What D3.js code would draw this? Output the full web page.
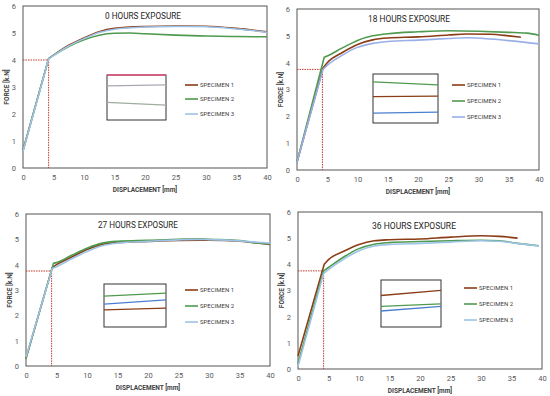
<!DOCTYPE html>
<html>
<head>
	<script src="https://cdn.jsdelivr.net/npm/d3@7"></script>
	<style>
		html, body {
			padding: 0;
			margin: 0;
			background: #fff;
		}
	</style>
</head>
<body>
	<script>
		var W = 550, H = 396;

		// ---- data ----
		var titles = ["0 HOURS EXPOSURE", "18 HOURS EXPOSURE", "27 HOURS EXPOSURE", "36 HOURS EXPOSURE"];
		var specimens = ["SPECIMEN 1", "SPECIMEN 2", "SPECIMEN 3"];
		var xTicks = [0, 5, 10, 15, 20, 25, 30, 35, 40];
		var yTicks = [0, 1, 2, 3, 4, 5, 6];
		var yieldForce = [4, 3.75, 3.75, 3.75];
		var yieldDisp = [4.2, 4.2, 4.2, 4.2];

		// 0 hours
		var d0s1 = [[0,0.65],[4.2,4.05],[5,4.18],[7.5,4.55],[10,4.82],[12.5,5.05],[15,5.17],[20,5.24],[25,5.26],[30,5.25],[35,5.17],[40,5.04]];
		var d0s2 = [[0,0.65],[4.2,4.05],[5,4.17],[7.5,4.5],[10,4.75],[12.5,4.92],[15,4.99],[17.5,5.0],[20,4.97],[25,4.92],[30,4.89],[35,4.87],[40,4.86]];
		var d0s3 = [[0,0.62],[4.2,4.04],[5,4.16],[7.5,4.52],[10,4.79],[12.5,5.02],[15,5.14],[20,5.22],[25,5.24],[30,5.23],[35,5.15],[40,5.03]];
		// 18 hours
		var d18s1 = [[0,0.3],[4.3,3.8],[5,4.0],[7.5,4.38],[10,4.68],[12.5,4.85],[15,4.92],[20,4.96],[25,5.03],[28,5.07],[32,5.06],[35,5.0],[37,4.95]];
		var d18s2 = [[0,0.3],[4.5,4.2],[5,4.25],[7.5,4.55],[10,4.83],[12.5,5.0],[15,5.08],[20,5.15],[25,5.19],[30,5.17],[35,5.13],[38,5.1],[40,5.02]];
		var d18s3 = [[0,0.3],[4.3,3.75],[5,3.9],[7.5,4.28],[10,4.57],[12.5,4.72],[15,4.79],[20,4.84],[25,4.9],[28,4.93],[32,4.88],[35,4.82],[40,4.7]];
		// 27 hours
		var d27s1 = [[0,0.3],[4.3,3.88],[5,4.0],[7.5,4.3],[10,4.6],[12.5,4.8],[15,4.87],[20,4.92],[25,4.96],[30,4.97],[35,4.93],[37,4.88],[40,4.8]];
		var d27s2 = [[0,0.3],[4.5,4.05],[5,4.08],[7.5,4.37],[10,4.65],[12.5,4.85],[15,4.92],[20,4.96],[25,5.0],[28,5.02],[30,5.0],[35,4.95],[37,4.88],[40,4.82]];
		var d27s3 = [[0,0.35],[4.3,3.85],[5,3.92],[7.5,4.23],[10,4.52],[12.5,4.75],[15,4.85],[20,4.92],[25,4.98],[28,5.0],[30,4.99],[35,4.94],[37,4.9],[40,4.85]];
		// 36 hours
		var d36s1 = [[0,0.5],[4.3,4.0],[5,4.18],[7.5,4.5],[10,4.76],[12.5,4.9],[15,4.94],[20,4.97],[25,5.04],[30,5.09],[33,5.07],[36,5.0]];
		var d36s2 = [[0,0.2],[4.2,3.75],[5,3.88],[7.5,4.28],[10,4.6],[12.5,4.77],[15,4.83],[20,4.87],[25,4.9],[30,4.92],[33,4.9],[36,4.8],[39.5,4.71]];
		var d36s3 = [[0,0.1],[4.2,3.65],[5,3.8],[7.5,4.2],[10,4.52],[12.5,4.7],[15,4.76],[20,4.8],[25,4.85],[30,4.9],[33,4.88],[36,4.8],[39.5,4.7]];

		// inset lines: [start, end] as fraction of the inset box height
		var inset0 = [[0.0, 0.0], [0.24, 0.22], [0.61, 0.67]];
		var inset18 = [[0.46, 0.45], [0.16, 0.22], [0.8, 0.78]];
		var inset27 = [[0.6, 0.56], [0.28, 0.21], [0.47, 0.37]];
		var inset36 = [[0.33, 0.22], [0.56, 0.51], [0.66, 0.56]];

		// ---- layout / style ----
		var colors = ["#8a3d16", "#4f9a4f", "#9dc3e6"];
		var colors18 = ["#8a3d16", "#4f9a4f", "#9aaee8"];
		var insetColors0 = ["#e0507a", "#a8a8b4", "#a0aca0"];
		var insetColors = ["#8a3d16", "#4f9a4f", "#4a7fd0"];

		var panels = [
			{ title: titles[0], tw: 76, data: [d0s1, d0s2, d0s3], inset: inset0, insetCol: insetColors0, col: colors,
			  l: 23, r: 267, t: 6, b: 168, tx: 143, ty: 18.5, box: [107, 75, 59, 45], lx: 185, ly: [85, 99, 114] },
			{ title: titles[1], tw: 82, data: [d18s1, d18s2, d18s3], inset: inset18, insetCol: insetColors, col: colors18,
			  l: 297, r: 539, t: 9, b: 170, tx: 409, ty: 21.5, box: [373, 74, 65, 49], lx: 452, ly: [85, 101, 117] },
			{ title: titles[2], tw: 80, data: [d27s1, d27s2, d27s3], inset: inset27, insetCol: insetColors, col: colors,
			  l: 26, r: 270, t: 214, b: 366, tx: 138, ty: 227.5, box: [104, 284, 62, 43], lx: 185, ly: [290, 306, 322] },
			{ title: titles[3], tw: 84, data: [d36s1, d36s2, d36s3], inset: inset36, insetCol: insetColors, col: colors,
			  l: 298, r: 542, t: 212, b: 369, tx: 414, ty: 228.5, box: [381, 280, 60, 47], lx: 464, ly: [288, 304, 320] }
		];

		var svg = d3.select("body").append("svg")
			.attr("width", W)
			.attr("height", H)
			.style("font-family", "Roboto, 'Liberation Sans', sans-serif");

		panels.forEach(function(p, i) {
			var x = d3.scaleLinear().domain([0, 40]).range([p.l, p.r]);
			var y = d3.scaleLinear().domain([0, 6]).range([p.b, p.t]);
			var g = svg.append("g");

			// frame
			g.append("rect")
				.attr("x", p.l).attr("y", p.t)
				.attr("width", p.r - p.l).attr("height", p.b - p.t)
				.attr("fill", "none").attr("stroke", "#555").attr("stroke-width", 1);

			// axes
			var xa = g.append("g").attr("transform", "translate(0," + p.b + ")")
				.call(d3.axisBottom(x).tickValues(xTicks).tickFormat(d3.format("d")).tickSize(0).tickPadding(7));
			var ya = g.append("g").attr("transform", "translate(" + p.l + ",0)")
				.call(d3.axisLeft(y).tickValues(yTicks).tickFormat(d3.format("d")).tickSize(0).tickPadding(7));
			[xa, ya].forEach(function(a) {
				a.select(".domain").remove();
				a.selectAll("text").attr("font-size", 7.5).attr("fill", "#595959")
					.attr("font-family", "Roboto, sans-serif");
			});

			// yield marker
			g.append("path")
				.attr("d", "M" + x(0) + "," + y(yieldForce[i]) + "H" + x(yieldDisp[i]) + "V" + y(0))
				.attr("fill", "none").attr("stroke", "#c0392b").attr("stroke-width", 1)
				.attr("stroke-dasharray", "1.5,1");

			// curves: straight elastic part, smooth afterwards
			var line = d3.line().x(function(d) { return x(d[0]); }).y(function(d) { return y(d[1]); })
				.curve(d3.curveMonotoneX);
			p.data.forEach(function(s, k) {
				var d = "M" + x(s[0][0]) + "," + y(s[0][1]) + line(s.slice(1)).replace(/^M/, "L");
				g.append("path")
					.attr("d", d)
					.attr("fill", "none").attr("stroke", p.col[k]).attr("stroke-width", 1.6)
					.attr("stroke-linejoin", "round");
			});

			// title
			g.append("text").attr("x", p.tx).attr("y", p.ty)
				.attr("text-anchor", "middle").attr("font-size", 9.5)
				.attr("textLength", p.tw).attr("lengthAdjust", "spacingAndGlyphs")
				.attr("fill", "#262626").text(p.title);

			// axis titles
			g.append("text").attr("x", (p.l + p.r) / 2).attr("y", p.b + 24)
				.attr("text-anchor", "middle").attr("font-size", 6.5).attr("font-weight", "bold")
				.attr("fill", "#404040").text("DISPLACEMENT [mm]");
			g.append("text")
				.attr("transform", "translate(" + (p.l - 14) + "," + ((p.t + p.b) / 2) + ") rotate(-90)")
				.attr("text-anchor", "middle").attr("font-size", 6.5).attr("font-weight", "bold")
				.attr("fill", "#404040").text("FORCE [k.N]");

			// inset box
			var bx = d3.scaleLinear().domain([0, 1]).range([p.box[0], p.box[0] + p.box[2]]);
			var by = d3.scaleLinear().domain([0, 1]).range([p.box[1], p.box[1] + p.box[3]]);
			g.append("rect")
				.attr("x", p.box[0]).attr("y", p.box[1])
				.attr("width", p.box[2]).attr("height", p.box[3])
				.attr("fill", "#fff").attr("stroke", "#333").attr("stroke-width", 1);
			p.inset.forEach(function(v, k) {
				g.append("line")
					.attr("x1", bx(0)).attr("x2", bx(1))
					.attr("y1", by(v[0])).attr("y2", by(v[1]))
					.attr("stroke", p.insetCol[k]).attr("stroke-width", 1.3);
			});

			// legend
			specimens.forEach(function(name, k) {
				g.append("line")
					.attr("x1", p.lx).attr("x2", p.lx + 13)
					.attr("y1", p.ly[k]).attr("y2", p.ly[k])
					.attr("stroke", p.col[k]).attr("stroke-width", 1.6);
				g.append("text")
					.attr("x", p.lx + 15).attr("y", p.ly[k] + 2.3)
					.attr("font-size", 6).attr("fill", "#404040").text(name);
			});
		});
	</script>
</body>
</html>
